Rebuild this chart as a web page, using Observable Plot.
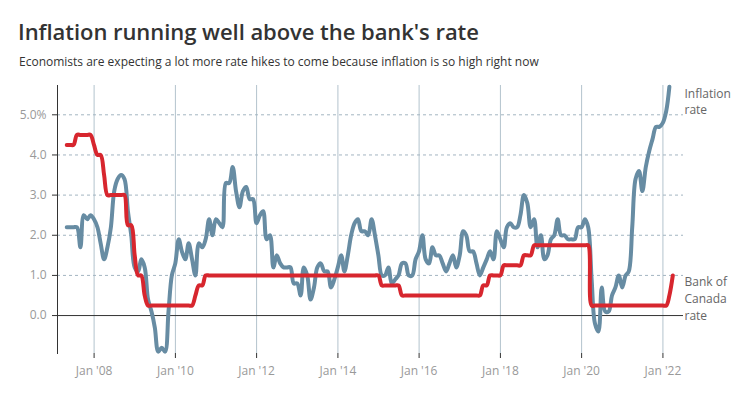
<!DOCTYPE html>
<html><head><meta charset="utf-8">
<script src="https://cdn.jsdelivr.net/npm/d3@7"></script>
<script src="https://cdn.jsdelivr.net/npm/@observablehq/plot@0.6"></script>
<style>
html,body{margin:0;padding:0;background:#fff;}
#wrap{position:relative;width:750px;height:402px;overflow:hidden;font-family:"Open Sans",sans-serif;}
#title{position:absolute;left:18px;top:17px;font-size:22px;font-weight:600;line-height:28px;color:#333;white-space:nowrap;letter-spacing:-0.05px;}
#subtitle{position:absolute;left:19px;top:54px;font-size:12px;line-height:16px;color:#333;white-space:nowrap;letter-spacing:0px;}
#chart{position:absolute;left:0;top:75px;}
</style></head><body>
<div id="wrap">
<div id="title">Inflation running well above the bank's rate</div>
<div id="subtitle">Economists are expecting a lot more rate hikes to come because inflation is so high right now</div>
<div id="chart"></div>
</div>
<script>
// First month of both series: April 2007 (values are month-end)
const startYear = 2007, startMonth = 4;

// Inflation rate, % year over year, Apr 2007 - Feb 2022
const inflation = [
  2.2, 2.2, 2.2, 2.2, 1.7, 2.5, 2.4, 2.5, 2.4,                 // 2007 Apr-Dec
  2.2, 1.8, 1.4, 1.7, 2.2, 3.1, 3.4, 3.5, 3.4, 2.6, 2.0, 1.2,  // 2008
  1.1, 1.4, 1.2, 0.4, 0.1, -0.3, -0.9, -0.8, -0.9, 0.1, 1.0, 1.3, // 2009
  1.9, 1.6, 1.4, 1.8, 1.4, 1.0, 1.8, 1.7, 1.9, 2.4, 2.0, 2.4,  // 2010
  2.3, 2.2, 3.3, 3.3, 3.7, 3.1, 2.7, 3.1, 3.2, 2.9, 2.9, 2.3,  // 2011
  2.5, 2.6, 1.9, 2.0, 1.2, 1.5, 1.3, 1.2, 1.2, 1.2, 0.8, 0.8,  // 2012
  0.5, 1.2, 1.0, 0.4, 0.7, 1.2, 1.3, 1.1, 1.1, 0.7, 0.9, 1.2,  // 2013
  1.5, 1.1, 1.5, 2.0, 2.3, 2.4, 2.1, 2.1, 2.0, 2.4, 2.0, 1.5,  // 2014
  1.0, 1.0, 1.2, 0.8, 0.9, 1.0, 1.3, 1.3, 1.0, 1.0, 1.4, 1.6,  // 2015
  2.0, 1.4, 1.3, 1.7, 1.5, 1.5, 1.3, 1.1, 1.3, 1.5, 1.2, 1.5,  // 2016
  2.1, 2.0, 1.6, 1.6, 1.3, 1.0, 1.2, 1.4, 1.6, 1.4, 2.1, 1.9,  // 2017
  1.7, 2.2, 2.3, 2.2, 2.2, 2.5, 3.0, 2.8, 2.2, 2.4, 1.7, 2.0,  // 2018
  1.4, 1.5, 1.9, 2.0, 2.4, 2.0, 2.0, 1.9, 1.9, 1.9, 2.2, 2.2,  // 2019
  2.4, 2.2, 0.9, -0.2, -0.4, 0.7, 0.1, 0.1, 0.5, 0.7, 1.0, 0.7, // 2020
  1.0, 1.1, 2.2, 3.4, 3.6, 3.1, 3.7, 4.1, 4.4, 4.7, 4.7, 4.8,  // 2021
  5.1, 5.7                                                     // 2022 Jan-Feb
];

// Bank of Canada rate, %, Apr 2007 - Mar 2022
const bankRate = [
  4.25, 4.25, 4.25, 4.5, 4.5, 4.5, 4.5, 4.5, 4.25,                        // 2007 Apr-Dec
  4.0, 4.0, 3.5, 3.0, 3.0, 3.0, 3.0, 3.0, 3.0, 2.25, 2.25, 1.5,           // 2008
  1.0, 1.0, 0.5, 0.25, 0.25, 0.25, 0.25, 0.25, 0.25, 0.25, 0.25, 0.25,    // 2009
  0.25, 0.25, 0.25, 0.25, 0.25, 0.5, 0.75, 0.75, 1.0, 1.0, 1.0, 1.0,      // 2010
  1.0, 1.0, 1.0, 1.0, 1.0, 1.0, 1.0, 1.0, 1.0, 1.0, 1.0, 1.0,             // 2011
  1.0, 1.0, 1.0, 1.0, 1.0, 1.0, 1.0, 1.0, 1.0, 1.0, 1.0, 1.0,             // 2012
  1.0, 1.0, 1.0, 1.0, 1.0, 1.0, 1.0, 1.0, 1.0, 1.0, 1.0, 1.0,             // 2013
  1.0, 1.0, 1.0, 1.0, 1.0, 1.0, 1.0, 1.0, 1.0, 1.0, 1.0, 1.0,             // 2014
  0.75, 0.75, 0.75, 0.75, 0.75, 0.75, 0.5, 0.5, 0.5, 0.5, 0.5, 0.5,       // 2015
  0.5, 0.5, 0.5, 0.5, 0.5, 0.5, 0.5, 0.5, 0.5, 0.5, 0.5, 0.5,             // 2016
  0.5, 0.5, 0.5, 0.5, 0.5, 0.5, 0.75, 0.75, 1.0, 1.0, 1.0, 1.0,           // 2017
  1.25, 1.25, 1.25, 1.25, 1.25, 1.25, 1.5, 1.5, 1.5, 1.75, 1.75, 1.75,    // 2018
  1.75, 1.75, 1.75, 1.75, 1.75, 1.75, 1.75, 1.75, 1.75, 1.75, 1.75, 1.75, // 2019
  1.75, 1.75, 0.25, 0.25, 0.25, 0.25, 0.25, 0.25, 0.25, 0.25, 0.25, 0.25, // 2020
  0.25, 0.25, 0.25, 0.25, 0.25, 0.25, 0.25, 0.25, 0.25, 0.25, 0.25, 0.25, // 2021
  0.25, 0.5, 1.0                                                          // 2022 Jan-Mar
];

const yTicks = [0, 1, 2, 3, 4, 5];
const xTickYears = [2008, 2010, 2012, 2014, 2016, 2018, 2020, 2022];
const seriesLabels = ["Inflation\nrate", "Bank of\nCanada\nrate"];
const xDomain = [new Date(Date.UTC(2007, 1, 6)), new Date(Date.UTC(2022, 6, 5))];
const yDomain = [-0.945, 5.73];

const monthEnd = i => new Date(Date.UTC(startYear, startMonth + i, 0));
const inflRows = inflation.map((v, i) => ({date: monthEnd(i), value: v}));
const rateRows = bankRate.map((v, i) => ({date: monthEnd(i), value: v}));
const xTicks = xTickYears.map(y => new Date(Date.UTC(y, 0, 1)));
const labelRows = [
  {date: xDomain[1], value: inflation[inflation.length - 1], text: seriesLabels[0]},
  {date: xDomain[1], value: bankRate[bankRate.length - 1], text: seriesLabels[1]}
];

const chart = Plot.plot({
  width: 750,
  height: 327,
  marginTop: 10,
  marginBottom: 49,
  marginLeft: 57,
  marginRight: 67,
  style: {fontFamily: "'Open Sans', sans-serif", background: "transparent", overflow: "visible"},
  x: {type: "utc", domain: xDomain},
  y: {domain: yDomain},
  marks: [
    Plot.gridX(xTicks, {stroke: "#b3c3cd", strokeOpacity: 1, strokeWidth: 1}),
    Plot.gridY(yTicks.filter(d => d !== 0), {stroke: "#a3b5c1", strokeOpacity: 1, strokeDasharray: "3,3"}),
    Plot.ruleY([0], {stroke: "#333"}),
    Plot.frame({anchor: "left", stroke: "#333"}),
    Plot.axisY(yTicks, {
      tickSize: 5, tickPadding: 6, fontSize: 12, stroke: "#333", fill: "#999", label: null,
      tickFormat: d => d === 5 ? "5.0%" : d.toFixed(1)
    }),
    Plot.axisX(xTicks, {
      tickSize: 5, tickPadding: 8, fontSize: 12, stroke: "#333", fill: "#999", label: null,
      tickFormat: d => "Jan '" + String(d.getUTCFullYear()).slice(2)
    }),
    Plot.line(inflRows, {x: "date", y: "value", stroke: "#678ca3", strokeWidth: 4, curve: "catmull-rom"}),
    Plot.line(rateRows, {x: "date", y: "value", stroke: "#d7262e", strokeWidth: 4, curve: "catmull-rom"}),
    Plot.text(labelRows, {
      x: "date", y: "value", text: "text", textAnchor: "start", lineAnchor: "top",
      dx: 1, dy: -1, fill: "#666", fontSize: 12, lineHeight: 1.4
    })
  ]
});
document.getElementById("chart").appendChild(chart);
</script>
</body></html>
